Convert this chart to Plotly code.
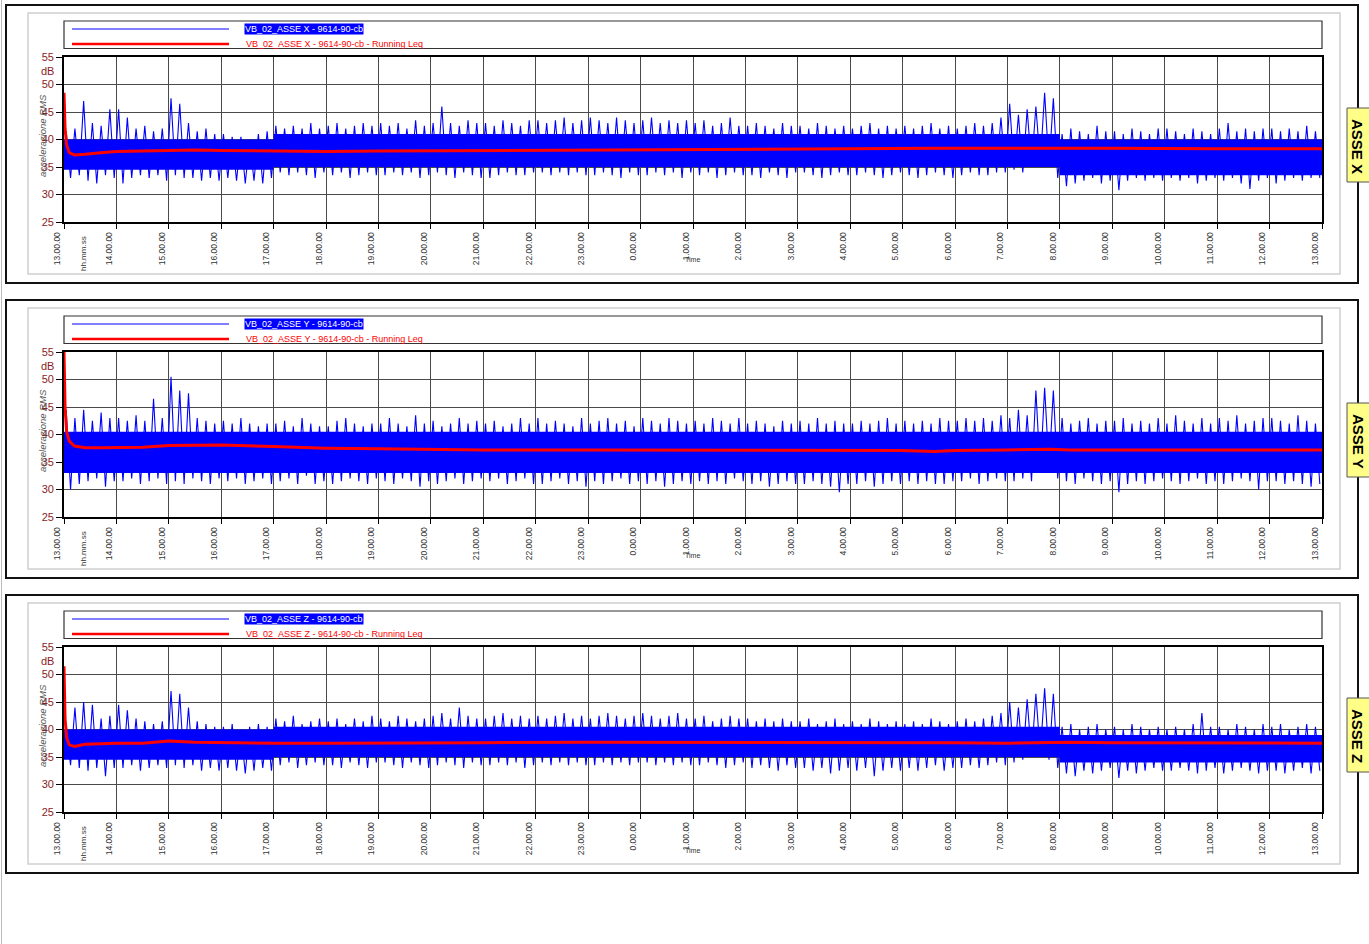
import plotly.graph_objects as go

W, H = 1369, 944
FONT = "Liberation Sans, Arial, sans-serif"

# ---------------- data ----------------
hour_labels = ["13.00.00", "14.00.00", "15.00.00", "16.00.00", "17.00.00", "18.00.00",
               "19.00.00", "20.00.00", "21.00.00", "22.00.00", "23.00.00", "0.00.00",
               "1.00.00", "2.00.00", "3.00.00", "4.00.00", "5.00.00", "6.00.00",
               "7.00.00", "8.00.00", "9.00.00", "10.00.00", "11.00.00", "12.00.00",
               "13.00.00"]
hour_ticks = list(range(25))
y_ticks = [25, 30, 35, 40, 45, 50, 55]

panel_names = ["ASSE X", "ASSE Y", "ASSE Z"]
series_names = ["VB_02_ASSE X - 9614-90-cb", "VB_02_ASSE Y - 9614-90-cb", "VB_02_ASSE Z - 9614-90-cb"]
leq_names = [s + " - Running Leq" for s in series_names]

# 10-minute peak / trough values of the RMS signal (dB), 6 per hour from 13:00
peak_x = [41.5, 42, 47, 43, 42.5, 45.5,
          45.5, 44, 42, 42.5, 41.5, 42,
          47.5, 46.5, 43, 41.5, 42, 41,
          41, 40.5, 40.5, 40, 41, 41.5,
          42.5, 42, 42.5, 42, 43, 42,
          42.5, 43, 42, 42.5, 43, 42.5,
          43, 42.5, 43, 42, 43.5, 42.5,
          43, 46, 43, 42.5, 43.5, 43,
          43, 42.5, 43.5, 43, 42.5, 43.5,
          43.5, 43, 43.5, 44, 43, 43.5,
          44, 43.5, 43, 44, 43.5, 43,
          43.5, 44, 43, 43.5, 43, 43.5,
          43, 43.5, 42.5, 43, 44, 42.5,
          42.5, 43, 42.5, 42, 43, 42.5,
          42.5, 42, 43, 42.5, 42, 42.5,
          42, 42.5, 43, 42, 42.5, 42,
          42.5, 42, 42.5, 43, 42, 42.5,
          42, 42.5, 43, 42.5, 43, 44,
          46.5, 44.5, 45.5, 46, 48.5, 47.5,
          41, 42, 41.5, 41, 42.5, 41.5,
          41.5, 41, 42, 41.5, 41, 42,
          42, 41.5, 41, 42, 41.5, 41,
          42, 43, 41.5, 42, 41.5, 42,
          42, 41.5, 42, 41.5, 42.5, 41.5]
trough_x = [33, 33.5, 32.5, 32, 33.5, 33,
            32, 33, 33.5, 33, 33.5, 32.5,
            33.5, 33, 33, 32.5, 33, 32.5,
            33, 32.5, 32, 32.5, 32, 33,
            34, 33.5, 34, 33.5, 33, 34,
            33.5, 34, 33, 33.5, 34, 33.5,
            33.5, 34, 33.5, 34, 33, 33.5,
            34, 33.5, 33, 34, 33.5, 33,
            33, 33.5, 34, 33.5, 33.5, 34,
            34, 33.5, 34, 33.5, 34, 33.5,
            33.5, 34, 33.5, 33, 34, 33.5,
            33.5, 34, 33.5, 34, 33, 34,
            33.5, 34, 33, 33.5, 34, 33.5,
            33.5, 33, 34, 33.5, 33, 34,
            34, 33.5, 33, 33.5, 34, 33.5,
            33.5, 34, 33.5, 33, 33.5, 34,
            33.5, 33, 33.5, 34, 33.5, 33,
            33.5, 34, 33.5, 33.5, 34, 34,
            34.5, 34, 35, 35.5, 35, 33,
            31.5, 32, 32.5, 33, 32, 32.5,
            30.8, 32.5, 33, 32.5, 33, 32.5,
            33, 32.5, 33, 32, 32.5, 33,
            32.5, 33, 32, 31, 32.5, 33,
            32, 32.5, 33, 32.5, 33, 33]

peak_y = [44.5, 43, 44.5, 42.5, 44, 43,
          43, 42.5, 43.5, 42.5, 46.5, 43,
          50.5, 48, 47.5, 43, 42.5, 42,
          42.5, 42, 43, 42, 41.5, 42,
          42, 42.5, 41.5, 43, 42, 41.5,
          41.5, 42.5, 43, 42, 41.5, 42,
          42, 43, 42, 41.5, 43.5, 42,
          42.5, 41.5, 42, 43, 42, 42.5,
          42, 42.5, 41.5, 42, 43, 42,
          43, 42, 42.5, 42, 41.5, 43,
          42, 42.5, 43, 42, 42.5, 41.5,
          43, 42.5, 42, 43, 42.5, 42,
          42.5, 42, 43, 42.5, 42, 43,
          42, 42.5, 42, 41.5, 42.5, 42,
          42.5, 42, 43, 42, 42.5, 42,
          42, 42.5, 42, 42.5, 43, 42,
          42.5, 42, 42.5, 42, 43, 42.5,
          42.5, 43, 42.5, 43, 42.5, 43.5,
          43, 44.5, 43.5, 48, 48.5, 48,
          43, 42, 42.5, 43, 42, 42.5,
          42.5, 43, 42, 42.5, 42, 43,
          42, 43.5, 42.5, 42, 43, 42,
          43, 42.5, 43.5, 42, 42.5, 43,
          43, 42.5, 42, 43.5, 42.5, 42]
trough_y = [30, 31, 31.5, 32, 30.5, 31.5,
            31.5, 32, 31, 31.5, 32, 31,
            31.5, 31, 32, 31.5, 31, 32,
            31.5, 32, 31, 31.5, 32, 31,
            31.5, 32, 31, 32.5, 31, 31.5,
            31, 31.5, 32, 31.5, 31, 32,
            31.5, 31, 32, 31.5, 30.5, 31.5,
            31, 31.5, 32, 31, 31.5, 32,
            31.5, 32, 31, 31.5, 32, 31,
            31, 31.5, 32, 31, 31.5, 30.5,
            31.5, 31, 31.5, 32, 31, 31.5,
            31, 31.5, 30.5, 31, 31.5, 31,
            31.5, 31, 31.5, 31, 32, 31.5,
            31, 31.5, 30.5, 31, 31.5, 31,
            31, 31.5, 31, 30.5, 29.5, 31,
            31, 31.5, 30.5, 31, 31.5, 31,
            31.5, 31, 31.5, 31, 31, 31.5,
            31.5, 32, 31, 31.5, 32, 31.5,
            31.5, 32, 31.5, 33, 34, 32,
            31.5, 31, 32, 31.5, 31, 31.5,
            29.5, 31, 31.5, 31, 31.5, 32,
            31.5, 31, 31.5, 32, 31, 31.5,
            31, 31.5, 32, 31.5, 30, 31.5,
            31.5, 31, 31.5, 31, 30.5, 31]

peak_z = [41, 44, 45, 44.5, 42, 42.5,
          44.5, 43.5, 42, 41.5, 41, 41.5,
          47, 46.5, 44, 41.5, 41, 40.5,
          40.5, 41, 40, 40.5, 41, 40.5,
          42, 41.5, 42.5, 41, 41.5, 42,
          41.5, 42, 41, 42, 41.5, 42.5,
          42, 41.5, 42.5, 42, 41.5, 42,
          42.5, 43, 42, 44, 42.5, 42,
          42, 42.5, 43, 42, 42.5, 42,
          42.5, 42, 42.5, 43, 42, 42.5,
          42, 42.5, 43, 42.5, 42, 42.5,
          43, 42.5, 42, 42.5, 43, 42,
          42, 42.5, 41.5, 42, 42.5, 42,
          42, 41.5, 42, 41.5, 42, 41.5,
          41.5, 42, 41, 41.5, 42, 41,
          41.5, 41, 42, 41.5, 41, 41.5,
          41, 41.5, 41, 42, 41.5, 41,
          41.5, 42, 41.5, 42, 42.5, 43,
          45, 44, 45.5, 46.5, 47.5, 46.5,
          40.5, 41, 40, 40.5, 41, 40,
          40.5, 40, 41, 40.5, 40, 40.5,
          40, 40.5, 40, 41, 43, 40.5,
          40.5, 40, 41, 40.5, 40, 41,
          40.5, 41, 40, 40.5, 41, 40.5]
trough_z = [33.5, 33, 32.5, 33, 31.5, 33,
            33, 33.5, 32.5, 33, 33.5, 33,
            33.5, 33, 33.5, 32.5, 33, 32.5,
            33, 32.5, 32, 32.5, 33, 32.5,
            33.5, 34, 33, 33.5, 34, 33.5,
            33.5, 33, 34, 33.5, 33, 34,
            34, 33.5, 33, 34, 33.5, 33,
            33.5, 34, 33.5, 33, 34, 33.5,
            33.5, 34, 33.5, 34, 33, 33.5,
            34, 33.5, 34, 33.5, 34, 33.5,
            33.5, 34, 33.5, 34, 33.5, 34,
            34, 33.5, 34, 33.5, 34, 33.5,
            33.5, 34, 33.5, 33, 33.5, 34,
            33, 33.5, 33, 32.5, 33.5, 33,
            33, 32.5, 33, 32, 32.5, 33,
            32.5, 33, 31.5, 32.5, 33, 32.5,
            33, 32.5, 33, 33.5, 32.5, 33,
            33, 33.5, 33, 33.5, 34, 33.5,
            34, 34.5, 35, 35.5, 34.5, 33,
            32, 31.5, 32.5, 32, 32.5, 33,
            31.2, 32.5, 32, 32.5, 33, 32.5,
            32.5, 33, 32.5, 32, 32.5, 33,
            32, 32.5, 33, 32.5, 32, 32.5,
            32.5, 32, 32.5, 33, 32, 32.5]

# hourly limits of the dense (solid) part of the signal
core_top_x = [40, 40, 40, 40, 41, 41, 41, 41, 41, 41, 41, 41,
              41, 41, 41, 41, 41, 41, 41, 40, 40, 40, 40, 40]
core_bot_x = [34.5, 34.5, 34.5, 34.5, 35, 35, 35, 35, 35, 35, 35, 35,
              35, 35, 35, 35, 35, 35, 35, 33.5, 33.5, 33.5, 33.5, 33.5]
core_top_y = [40.5, 40.5, 40.5, 40.5, 40.5, 40.5, 40.5, 40.5, 40.5, 40.5, 40.5, 40.5,
              40.5, 40.5, 40.5, 40.5, 40.5, 40.5, 40.5, 40.5, 40.5, 40.5, 40.5, 40.5]
core_bot_y = [33, 33, 33, 33, 33, 33, 33, 33, 33, 33, 33, 33,
              33, 33, 33, 33, 33, 33, 33, 33, 33, 33, 33, 33]
core_top_z = [40, 40, 40, 40, 40.5, 40.5, 40.5, 40.5, 40.5, 40.5, 40.5, 40.5,
              40.5, 40.5, 40.5, 40.5, 40.5, 40.5, 40.5, 39, 39, 39, 39, 39]
core_bot_z = [34.5, 34.5, 34.5, 34.5, 35, 35, 35, 35, 35, 35, 35, 35,
              35, 35, 35, 35, 35, 35, 35, 34, 34, 34, 34, 34]

# running Leq (hours after 13:00)
leq_t = [0, 0.02, 0.05, 0.1, 0.2, 0.4, 0.7, 1.0, 1.5, 2.0, 2.5, 3, 4, 5, 6, 8, 10, 12,
         14, 16, 16.6, 17, 18, 18.8, 19.2, 20, 22, 24]
leq_x = [48.5, 42, 39, 37.6, 37.2, 37.3, 37.6, 37.8, 37.9, 38.0, 38.1, 38.0, 37.9, 37.8,
         37.9, 38.0, 38.2, 38.3, 38.3, 38.4, 38.4, 38.4, 38.4, 38.5, 38.4, 38.4, 38.3, 38.3]
leq_y = [55, 45, 40.5, 38.8, 37.9, 37.6, 37.6, 37.6, 37.7, 38.0, 38.1, 38.1, 37.8, 37.5,
         37.4, 37.2, 37.2, 37.2, 37.1, 37.1, 36.9, 37.1, 37.2, 37.3, 37.2, 37.2, 37.2, 37.2]
leq_z = [51.5, 42, 38.5, 37.2, 36.9, 37.3, 37.4, 37.5, 37.5, 37.9, 37.7, 37.6, 37.5, 37.5,
         37.5, 37.6, 37.7, 37.7, 37.7, 37.6, 37.6, 37.6, 37.5, 37.6, 37.7, 37.6, 37.6, 37.5]

peaks = [peak_x, peak_y, peak_z]
troughs = [trough_x, trough_y, trough_z]
core_tops = [core_top_x, core_top_y, core_top_z]
core_bots = [core_bot_x, core_bot_y, core_bot_z]
leqs = [leq_x, leq_y, leq_z]

# ---------------- figure ----------------
BIN = 1 / 6


def fx(p):
    return p / W


def fy(p):
    return 1 - p / H


fig = go.Figure()
shapes = []
annotations = []
layout_axes = {}

for k in range(3):
    o = 295 * k
    xa = "x" if k == 0 else f"x{k + 1}"
    ya = "y" if k == 0 else f"y{k + 1}"
    xname = "xaxis" if k == 0 else f"xaxis{k + 1}"
    yname = "yaxis" if k == 0 else f"yaxis{k + 1}"

    # dense core of the signal
    hours = hour_ticks
    fig.add_trace(go.Scatter(x=hours, y=core_bots[k] + [core_bots[k][-1]], mode="lines",
                             line=dict(width=0, shape="hv", color="#0000FF"),
                             xaxis=xa, yaxis=ya, hoverinfo="skip", showlegend=False))
    fig.add_trace(go.Scatter(x=hours, y=core_tops[k] + [core_tops[k][-1]], mode="lines",
                             line=dict(width=0, shape="hv", color="#0000FF"),
                             fill="tonexty", fillcolor="#0000FF",
                             xaxis=xa, yaxis=ya, hoverinfo="skip", showlegend=False))
    # peaks / troughs
    zx, zy = [], []
    for i, (hv, lv) in enumerate(zip(peaks[k], troughs[k])):
        zx += [i * BIN + 0.25 * BIN, i * BIN + 0.75 * BIN]
        zy += [hv, lv]
    fig.add_trace(go.Scatter(x=zx, y=zy, mode="lines", line=dict(width=1.1, color="#0000FF"),
                             xaxis=xa, yaxis=ya, name=series_names[k], showlegend=False))
    # running Leq
    fig.add_trace(go.Scatter(x=leq_t, y=leqs[k], mode="lines", line=dict(width=3, color="#FF0000"),
                             xaxis=xa, yaxis=ya, name=leq_names[k], showlegend=False))

    layout_axes[xname] = dict(
        domain=[fx(64), fx(1322)], range=[0, 24], anchor=ya,
        tickmode="array", tickvals=hour_ticks, ticktext=hour_labels, tickangle=-90,
        tickfont=dict(size=8.5, color="#333333", family=FONT), ticklabelshift=-7,
        ticks="outside", ticklen=5, tickcolor="#000000",
        showgrid=True, gridcolor="#4a4a4a", gridwidth=1,
        showline=True, linecolor="#000000", linewidth=1.5, mirror=True, zeroline=False,
        fixedrange=True, automargin=False)
    layout_axes[yname] = dict(
        domain=[fy(222 + o), fy(57 + o)], range=[25, 55], anchor=xa,
        tickmode="array", tickvals=y_ticks,
        tickfont=dict(size=11, color="#8B1C1C", family=FONT),
        ticks="outside", ticklen=6, tickcolor="#000000",
        showgrid=True, gridcolor="#4a4a4a", gridwidth=1,
        showline=True, linecolor="#000000", linewidth=1.8, mirror=True, zeroline=False,
        fixedrange=True, automargin=False)

    # frames
    shapes.append(dict(type="rect", xref="paper", yref="paper", x0=fx(6), x1=fx(1358),
                       y0=fy(283 + o), y1=fy(5 + o), line=dict(color="#111111", width=2)))
    shapes.append(dict(type="rect", xref="paper", yref="paper", x0=fx(28), x1=fx(1340),
                       y0=fy(274 + o), y1=fy(13 + o), line=dict(color="#CFCFCF", width=1.5)))
    # legend box
    shapes.append(dict(type="rect", xref="paper", yref="paper", x0=fx(64), x1=fx(1322),
                       y0=fy(48.5 + o), y1=fy(21 + o), line=dict(color="#333333", width=1.2)))
    shapes.append(dict(type="line", xref="paper", yref="paper", x0=fx(72), x1=fx(229),
                       y0=fy(29 + o), y1=fy(29 + o), line=dict(color="#0000FF", width=1)))
    shapes.append(dict(type="line", xref="paper", yref="paper", x0=fx(72), x1=fx(229),
                       y0=fy(44 + o), y1=fy(44 + o), line=dict(color="#FF0000", width=2.5)))
    annotations.append(dict(xref="paper", yref="paper", x=fx(244), y=fy(29 + o),
                            xanchor="left", yanchor="middle", showarrow=False,
                            text=series_names[k], bgcolor="#0000FF", borderpad=0,
                            font=dict(size=9, color="#FFFFFF", family=FONT)))
    annotations.append(dict(xref="paper", yref="paper", x=fx(244), y=fy(44 + o),
                            xanchor="left", yanchor="middle", showarrow=False,
                            text=leq_names[k], font=dict(size=9, color="#FF0000", family=FONT)))
    # yellow side tag
    shapes.append(dict(type="rect", xref="paper", yref="paper", x0=fx(1347), x1=fx(1375),
                       y0=fy(182 + o), y1=fy(108 + o), fillcolor="#FFFF88",
                       line=dict(color="#555555", width=1)))
    annotations.append(dict(xref="paper", yref="paper", x=fx(1358), y=fy(146 + o),
                            xanchor="center", yanchor="middle", showarrow=False, textangle=90,
                            text="<b>" + panel_names[k] + "</b>",
                            font=dict(size=15, color="#000000", family=FONT)))
    # axis texts
    annotations.append(dict(xref="paper", yref=ya, x=fx(64), y=52.5, xanchor="right",
                            yanchor="middle", xshift=-8, showarrow=False, text="dB",
                            font=dict(size=11, color="#8B1C1C", family=FONT)))
    annotations.append(dict(xref="paper", yref="paper", x=fx(42), y=fy(136 + o),
                            xanchor="center", yanchor="middle", showarrow=False, textangle=-90,
                            text="<i>accelerazione RMS</i>",
                            font=dict(size=9.5, color="#555555", family=FONT)))
    annotations.append(dict(xref="paper", yref="paper", x=fx(83), y=fy(254 + o),
                            xanchor="center", yanchor="middle", showarrow=False, textangle=-90,
                            text="hh.mm.ss", font=dict(size=8, color="#333333", family=FONT)))
    annotations.append(dict(xref="paper", yref="paper", x=fx(692), y=fy(260 + o),
                            xanchor="center", yanchor="middle", showarrow=False,
                            text="Time", font=dict(size=7, color="#333333", family=FONT)))

# thin page edge line on the left
shapes.append(dict(type="line", xref="paper", yref="paper", x0=fx(1.5), x1=fx(1.5),
                   y0=0, y1=1, line=dict(color="#BBBBBB", width=1)))

fig.update_layout(
    width=W, height=H, margin=dict(l=0, r=0, t=0, b=0, pad=0), autosize=False,
    paper_bgcolor="#FFFFFF", plot_bgcolor="#FFFFFF",
    showlegend=False, shapes=shapes, annotations=annotations,
    font=dict(family=FONT),
    **layout_axes)

fig.write_html("out.html", config={"displayModeBar": False},
               post_script="document.body.style.margin='0';document.body.style.padding='0';"
                           "document.body.style.overflow='hidden';")
